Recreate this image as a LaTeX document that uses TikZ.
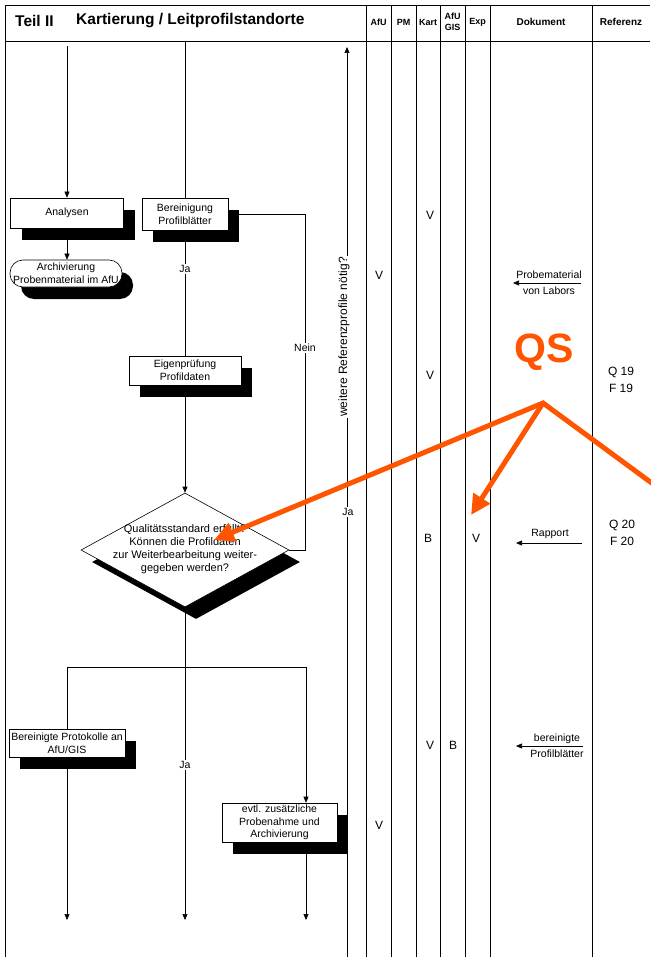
\documentclass[tikz,border=0pt]{standalone}
\usepackage{fontspec}
\setmainfont{Liberation Sans}
\usetikzlibrary{arrows.meta,shapes.geometric,shadows}
\definecolor{qsorange}{RGB}{255,85,0}
\tikzset{
  ln/.style={line width=0.6pt},
  arr/.style={ln,-{Triangle[width=5pt,length=6pt]}},
  shad/.style={drop shadow={shadow xshift=11pt, shadow yshift=-12pt, fill=black, opacity=1}},
  box/.style={draw, fill=white, line width=0.6pt, inner sep=1pt, align=center, font=\fontsize{10.5}{12.6}\selectfont, shad},
  lab/.style={fill=white, inner sep=1.5pt, font=\fontsize{10.5}{12}\selectfont},
  hd/.style={inner sep=0pt, align=center, font=\fontsize{9}{11}\selectfont\bfseries},
  hdb/.style={inner sep=0pt, align=center, font=\fontsize{10}{12}\selectfont\bfseries},
  colmark/.style={inner sep=0pt, font=\fontsize{12}{14}\selectfont},
  doc/.style={inner sep=0pt, font=\fontsize{10.5}{12}\selectfont},
  refx/.style={inner sep=0pt, font=\fontsize{12}{14}\selectfont},
  qsarrow/.style={draw=qsorange, line width=5pt, line join=miter, -{Triangle[width=19pt,length=20pt]}, qsorange}
}
\begin{document}
\begin{tikzpicture}[x=1pt,y=-1pt]
\useasboundingbox (0,0) rectangle (650,957);

% frame and columns
\draw[ln] (5,5) -- (650,5);
\draw[ln] (5,41) -- (650,41);
\draw[ln] (5,5) -- (5,957);
\foreach \x in {366,391,416,440,465,490,592} \draw[ln] (\x,5) -- (\x,957);

% header
\node[anchor=west, inner sep=0pt, font=\fontsize{15.5}{18}\selectfont\bfseries] (teil) at (15,21) {Teil II};
\node[anchor=west, inner sep=0pt, font=\fontsize{15.5}{18}\selectfont\bfseries] (titel) at (76,21) {Kartierung / Leitprofilstandorte};
\node[hd] (h1) at (378.5,22) {AfU};
\node[hd] (h2) at (403.5,22) {PM};
\node[hd] (h3) at (428,22) {Kart};
\node[hd] (h4) at (452.5,22) {AfU\\GIS};
\node[hd] (h5) at (477.5,22) {Exp};
\node[hdb] (h6) at (541,22) {Dokument};
\node[hdb] (h7) at (621,22) {Referenz};

% flow nodes
\node[box, minimum width=113pt, minimum height=30pt] (ana) at (67,213) {Analysen};
\node[box, minimum width=86pt, minimum height=32pt] (ber) at (185,214) {Bereinigung\\Profilblätter};
\node[box, rounded corners=13pt, minimum width=112pt, minimum height=27pt] (arch) at (66,273.5) {Archivierung\\Probenmaterial im AfU};
\node[box, minimum width=112pt, minimum height=29pt] (eig) at (185,370.5) {Eigenprüfung\\Profildaten};
\node[diamond, draw, fill=white, line width=0.6pt, minimum width=208pt, minimum height=114pt, inner sep=0pt, shad] (dia) at (185,550) {};
\node[align=center, inner sep=0pt, font=\fontsize{11}{13}\selectfont] (diatext) at (185,549.5) {Qualitätsstandard erfüllt?\\Können die Profildaten\\zur Weiterbearbeitung weiter-\\gegeben werden?};
\node[box, minimum width=116pt, minimum height=28pt] (prot) at (67,743) {Bereinigte Protokolle an\\AfU/GIS};
\node[box, minimum width=115pt, minimum height=39pt] (evtl) at (279.5,822.5) {evtl. zusätzliche\\Probenahme und\\Archivierung};

% coordinates
\coordinate (t1) at (67,46);
\coordinate (t2) at (185,41);
\coordinate (nr) at (305,214);
\coordinate (bl) at (67,667);
\coordinate (br) at (306,667);
\coordinate (b1) at (67,920);
\coordinate (b2) at (185,920);
\coordinate (b3) at (306,920);
\coordinate (up) at (347,47);
\coordinate (upb) at (347,957);

% connectors
\draw[arr] (t1) -- (ana.north);
\draw[ln] (t2) -- (ber.north);
\draw[arr] (ana.south) -- (ana.south |- arch.north);
\draw[ln] (ber.south) -- (eig.north);
\draw[arr] (eig.south) -- (dia.north);
\draw[ln] (dia.east) -- (dia.east -| nr) -- (nr) -- (ber.east);
\draw[arr] (dia.south) -- (b2);
\draw[ln] (bl) -- (br);
\draw[ln] (bl) -- (prot.north);
\draw[arr] (br) -- (br |- evtl.north);
\draw[arr] (prot.south) -- (b1);
\draw[arr] (br |- evtl.south) -- (b3);
\draw[arr] (upb) -- (up);

% labels on lines
\node[lab] (ja1) at (185,269) {Ja};
\node[lab] (nein) at (305,348) {Nein};
\node[lab, rotate=90, font=\fontsize{12}{14}\selectfont] (weit) at (344,337) {weitere Referenzprofile nötig?};
\node[lab] (ja2) at (348,512) {Ja};
\node[lab] (ja3) at (185,765) {Ja};

% column marks
\node[colmark] (m1) at (430,215) {V};
\node[colmark] (m2) at (379,275) {V};
\node[colmark] (m3) at (430,375) {V};
\node[colmark] (m4) at (428,538) {B};
\node[colmark] (m5) at (476,538) {V};
\node[colmark] (m6) at (430,745) {V};
\node[colmark] (m7) at (453,745) {B};
\node[colmark] (m8) at (379,825) {V};

% Dokument
\coordinate (d1a) at (581,283);
\coordinate (d1b) at (513,283);
\draw[arr] (d1a) -- (d1b);
\node[doc] (pm1) at (549,275) {Probematerial};
\node[doc] (pm2) at (549,291) {von Labors};
\coordinate (d2a) at (582,543);
\coordinate (d2b) at (516,543);
\draw[arr] (d2a) -- (d2b);
\node[doc] (rap) at (550,534) {Rapport};
\coordinate (d3a) at (583,746);
\coordinate (d3b) at (516,746);
\draw[arr] (d3a) -- (d3b);
\node[doc] (bp1) at (557,739) {bereinigte};
\node[doc] (bp2) at (557,754) {Profilblätter};

% Referenz
\node[refx] (q19) at (621,372) {Q 19};
\node[refx] (f19) at (621,388) {F 19};
\node[refx] (q20) at (622,525) {Q 20};
\node[refx] (f20) at (622,541) {F 20};

% QS annotation
\node[inner sep=0pt, text=qsorange, font=\fontsize{41}{45}\selectfont\bfseries] (qs) at (544,352) {QS};
\coordinate (qo) at (543,403);
\coordinate (qa) at (214,540);
\coordinate (qb) at (471,515);
\coordinate (qc) at (668,495);
\draw[qsarrow] (qc) -- (qo) -- (qa);
\draw[qsarrow] (qo) -- (qb);
\end{tikzpicture}
\end{document}
